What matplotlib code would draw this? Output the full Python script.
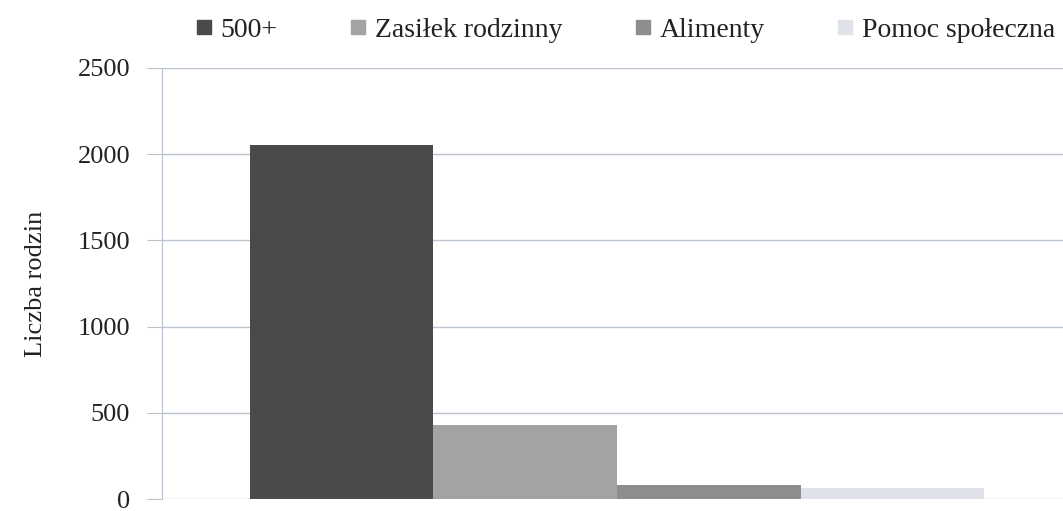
import matplotlib.pyplot as plt
from matplotlib.lines import Line2D

plt.rcParams['font.family'] = ['Liberation Serif', 'DejaVu Serif']

# data
series = ["500+", "Zasiłek rodzinny", "Alimenty", "Pomoc społeczna"]
values = [2055, 432, 80, 62]
colors = ["#4a4a4a", "#a3a3a3", "#8e8e8e", "#dfe2e8"]
yticks = [0, 500, 1000, 1500, 2000, 2500]

fig = plt.figure(figsize=(10.63, 5.11), dpi=100)
# axes runs a bit past the right edge, like the cropped scan
ax = fig.add_axes([162 / 1063, 12 / 511, 910 / 1063, 431 / 511])

width = 0.2017
for i, (name, v, c) in enumerate(zip(series, values, colors)):
    ax.bar((i - 1.5) * width, v, width, color=c, label=name, zorder=3)

ax.set_xlim(-0.5, 0.5)
ax.set_ylim(0, 2500)
ax.set_yticks(yticks)
ax.set_xticks([])
ax.grid(axis='y', color='#b9c3cf', linewidth=1, zorder=0)
for s in ['top', 'right', 'bottom']:
    ax.spines[s].set_visible(False)
ax.spines['left'].set_color('#b9c3cf')
ax.tick_params(axis='y', length=11, color='#b9c3cf', pad=12, labelsize=19,
               labelcolor='#222222')
ax.set_ylabel("Liczba rodzin", fontsize=19, color='#222222', labelpad=22)

handles = [Line2D([], [], marker='s', linestyle='none', markersize=10,
                  markerfacecolor=c, markeredgecolor=c) for c in colors]
fig.legend(handles, series, loc='center', bbox_to_anchor=(0.587, 0.941),
           ncol=4, frameon=False, fontsize=20, handletextpad=0.2,
           columnspacing=2.5, handlelength=0.8, labelcolor='#222222')

fig.savefig("out.png", dpi=100)
